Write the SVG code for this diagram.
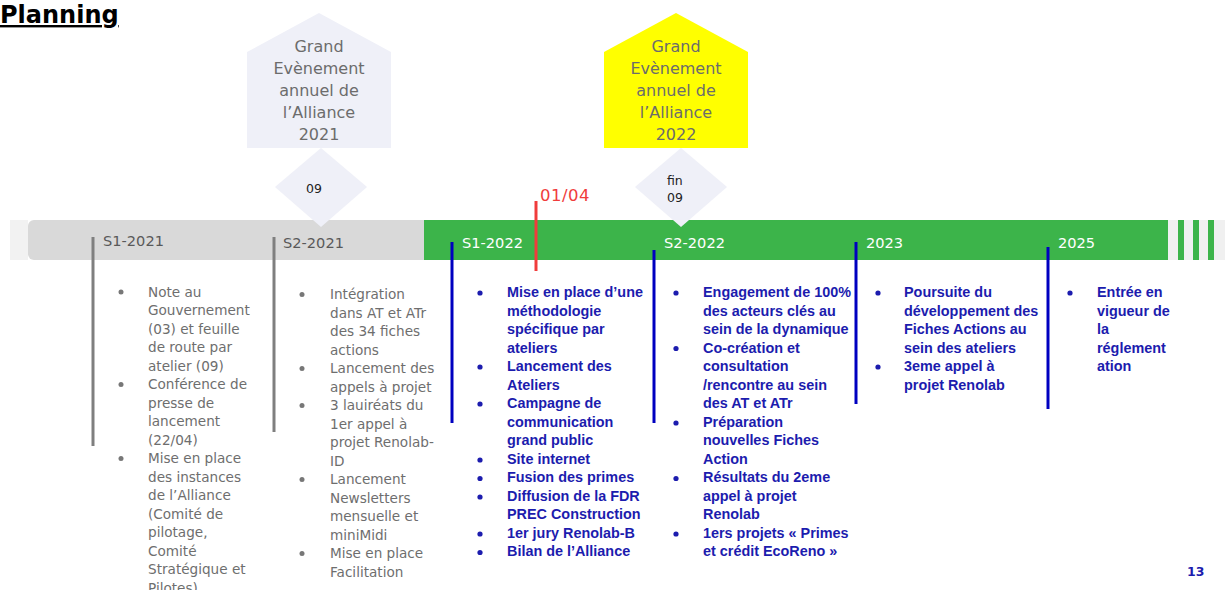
<svg xmlns="http://www.w3.org/2000/svg" width="1225" height="590" viewBox="0 0 1225 590">
<style>
.g{font-family:"DejaVu Sans",Verdana,sans-serif;font-size:13.6px;fill:#6e6e6e}
.b{font-family:"Liberation Sans",Arial,sans-serif;font-size:14.4px;font-weight:bold;fill:#1c1cae}
.pent{font-family:"DejaVu Sans",Verdana,sans-serif;font-size:16px;fill:#6c6c6c;text-anchor:middle}
.dia{font-family:"DejaVu Sans",Verdana,sans-serif;font-size:12.5px;fill:#222}
.lbl{font-family:"DejaVu Sans",Verdana,sans-serif;font-size:14.6px}
.gd{fill:#777}
.bd{fill:#1c1cae}
.gt{stroke:#7f7f7f;stroke-width:3}
.bt{stroke:#0000c0;stroke-width:3}
</style>
<rect width="1225" height="590" fill="#fff"/>
<g id="title">
<text x="0" y="23" font-family="DejaVu Sans,Verdana,sans-serif" font-size="24" font-weight="bold" text-decoration="underline" fill="#000">Planning</text>
</g>
<g id="bar">
<rect x="10" y="220" width="18" height="40" fill="#f2f2f2"/>
<rect x="28" y="220" width="410" height="40" rx="6" fill="#d9d9d9"/>
<rect x="424" y="220" width="744" height="40" fill="#3cb44a"/>
<rect x="1168" y="220" width="57" height="40" fill="#f0f0f0"/>
<rect x="1178" y="220" width="6" height="40" fill="#3cb44a"/>
<rect x="1193" y="220" width="6" height="40" fill="#3cb44a"/>
<rect x="1208" y="220" width="6" height="40" fill="#3cb44a"/>
<text class="lbl" x="103" y="246" fill="#595959">S1-2021</text>
<text class="lbl" x="283" y="248" fill="#595959">S2-2021</text>
<text class="lbl" x="462" y="248" fill="#fff">S1-2022</text>
<text class="lbl" x="664" y="248" fill="#fff">S2-2022</text>
<text class="lbl" x="866" y="248" fill="#fff">2023</text>
<text class="lbl" x="1058" y="248" fill="#fff">2025</text>
</g>
<g id="event2021">
<polygon points="247,52 319,13 391,52 391,148 247,148" fill="#eff0f8"/>
<text class="pent" x="319" y="52">Grand</text>
<text class="pent" x="319" y="74">Evènement</text>
<text class="pent" x="319" y="96">annuel de</text>
<text class="pent" x="319" y="118">l’Alliance</text>
<text class="pent" x="319" y="140">2021</text>
</g>
<g id="event2022">
<polygon points="604,52 676,13 748,52 748,148 604,148" fill="#ffff00"/>
<text class="pent" x="676" y="52">Grand</text>
<text class="pent" x="676" y="74">Evènement</text>
<text class="pent" x="676" y="96">annuel de</text>
<text class="pent" x="676" y="118">l’Alliance</text>
<text class="pent" x="676" y="140">2022</text>
</g>
<g id="date09">
<polygon points="321,148 367,187 321,227 275,187" fill="#eff0f8"/>
<text class="dia" x="306" y="193">09</text>
</g>
<g id="datefin09">
<polygon points="681,148 727,187 681,227 635,187" fill="#eff0f8"/>
<text class="dia" x="667" y="185">fin</text>
<text class="dia" x="667" y="202">09</text>
</g>
<g id="connectors">
<line class="gt" x1="93" y1="237" x2="93" y2="446"/>
<line class="gt" x1="274" y1="237" x2="274" y2="432"/>
<line class="bt" x1="452" y1="242" x2="452" y2="423"/>
<line class="bt" x1="654" y1="250" x2="654" y2="423"/>
<line class="bt" x1="856" y1="242" x2="856" y2="404"/>
<line class="bt" x1="1048" y1="247" x2="1048" y2="409"/>
<line x1="536" y1="201" x2="536" y2="271" stroke="#f03c3c" stroke-width="3"/>
<text x="540" y="201" font-family="DejaVu Sans,Verdana,sans-serif" font-size="16.5" fill="#f03c3c" letter-spacing="0.5">01/04</text>
</g>
<g id="col-s1-2021">
<circle class="gd" cx="121" cy="292" r="2.5"/>
<circle class="gd" cx="121" cy="384.5" r="2.5"/>
<circle class="gd" cx="121" cy="458.5" r="2.5"/>
<text class="g" x="148" y="296.5">Note au</text>
<text class="g" x="148" y="315">Gouvernement</text>
<text class="g" x="148" y="333.5">(03) et feuille</text>
<text class="g" x="148" y="352">de route par</text>
<text class="g" x="148" y="370.5">atelier (09)</text>
<text class="g" x="148" y="389">Conférence de</text>
<text class="g" x="148" y="407.5">presse de</text>
<text class="g" x="148" y="426">lancement</text>
<text class="g" x="148" y="444.5">(22/04)</text>
<text class="g" x="148" y="463">Mise en place</text>
<text class="g" x="148" y="481.5">des instances</text>
<text class="g" x="148" y="500">de l’Alliance</text>
<text class="g" x="148" y="518.5">(Comité de</text>
<text class="g" x="148" y="537">pilotage,</text>
<text class="g" x="148" y="555.5">Comité</text>
<text class="g" x="148" y="574">Stratégique et</text>
<text class="g" x="148" y="592.5">Pilotes)</text>
</g>
<g id="col-s2-2021">
<circle class="gd" cx="302" cy="294.5" r="2.5"/>
<circle class="gd" cx="302" cy="368.5" r="2.5"/>
<circle class="gd" cx="302" cy="405.5" r="2.5"/>
<circle class="gd" cx="302" cy="479.5" r="2.5"/>
<circle class="gd" cx="302" cy="553.5" r="2.5"/>
<text class="g" x="330" y="299">Intégration</text>
<text class="g" x="330" y="317.5">dans AT et ATr</text>
<text class="g" x="330" y="336">des 34 fiches</text>
<text class="g" x="330" y="354.5">actions</text>
<text class="g" x="330" y="373">Lancement des</text>
<text class="g" x="330" y="391.5">appels à projet</text>
<text class="g" x="330" y="410">3 lauiréats du</text>
<text class="g" x="330" y="428.5">1er appel à</text>
<text class="g" x="330" y="447">projet Renolab-</text>
<text class="g" x="330" y="465.5">ID</text>
<text class="g" x="330" y="484">Lancement</text>
<text class="g" x="330" y="502.5">Newsletters</text>
<text class="g" x="330" y="521">mensuelle et</text>
<text class="g" x="330" y="539.5">miniMidi</text>
<text class="g" x="330" y="558">Mise en place</text>
<text class="g" x="330" y="576.5">Facilitation</text>
</g>
<g id="col-s1-2022">
<circle class="bd" cx="480" cy="293" r="2.6"/>
<circle class="bd" cx="480" cy="367" r="2.6"/>
<circle class="bd" cx="480" cy="404" r="2.6"/>
<circle class="bd" cx="480" cy="460" r="2.6"/>
<circle class="bd" cx="480" cy="478.5" r="2.6"/>
<circle class="bd" cx="480" cy="497" r="2.6"/>
<circle class="bd" cx="480" cy="534" r="2.6"/>
<circle class="bd" cx="480" cy="552.5" r="2.6"/>
<text class="b" x="507" y="297">Mise en place d’une</text>
<text class="b" x="507" y="315.5">méthodologie</text>
<text class="b" x="507" y="334">spécifique par</text>
<text class="b" x="507" y="352.5">ateliers</text>
<text class="b" x="507" y="371">Lancement des</text>
<text class="b" x="507" y="389.5">Ateliers</text>
<text class="b" x="507" y="408">Campagne de</text>
<text class="b" x="507" y="426.5">communication</text>
<text class="b" x="507" y="445">grand public</text>
<text class="b" x="507" y="463.5">Site internet</text>
<text class="b" x="507" y="482">Fusion des primes</text>
<text class="b" x="507" y="500.5">Diffusion de la FDR</text>
<text class="b" x="507" y="519">PREC Construction</text>
<text class="b" x="507" y="537.5">1er jury Renolab-B</text>
<text class="b" x="507" y="556">Bilan de l’Alliance</text>
</g>
<g id="col-s2-2022">
<circle class="bd" cx="676" cy="293" r="2.6"/>
<circle class="bd" cx="676" cy="348.5" r="2.6"/>
<circle class="bd" cx="676" cy="423" r="2.6"/>
<circle class="bd" cx="676" cy="478.5" r="2.6"/>
<circle class="bd" cx="676" cy="534" r="2.6"/>
<text class="b" x="703" y="297">Engagement de 100%</text>
<text class="b" x="703" y="315.5">des acteurs clés au</text>
<text class="b" x="703" y="334">sein de la dynamique</text>
<text class="b" x="703" y="352.5">Co-création et</text>
<text class="b" x="703" y="371">consultation</text>
<text class="b" x="703" y="389.5">/rencontre au sein</text>
<text class="b" x="703" y="408">des AT et ATr</text>
<text class="b" x="703" y="426.5">Préparation</text>
<text class="b" x="703" y="445">nouvelles Fiches</text>
<text class="b" x="703" y="463.5">Action</text>
<text class="b" x="703" y="482">Résultats du 2eme</text>
<text class="b" x="703" y="500.5">appel à projet</text>
<text class="b" x="703" y="519">Renolab</text>
<text class="b" x="703" y="537.5">1ers projets « Primes</text>
<text class="b" x="703" y="556">et crédit EcoReno »</text>
</g>
<g id="col-2023">
<circle class="bd" cx="878" cy="293" r="2.6"/>
<circle class="bd" cx="878" cy="367" r="2.6"/>
<text class="b" x="904" y="297">Poursuite du</text>
<text class="b" x="904" y="315.5">développement des</text>
<text class="b" x="904" y="334">Fiches Actions au</text>
<text class="b" x="904" y="352.5">sein des ateliers</text>
<text class="b" x="904" y="371">3eme appel à</text>
<text class="b" x="904" y="389.5">projet Renolab</text>
</g>
<g id="col-2025">
<circle class="bd" cx="1070" cy="293" r="2.6"/>
<text class="b" x="1097" y="297">Entrée en</text>
<text class="b" x="1097" y="315.5">vigueur de</text>
<text class="b" x="1097" y="334">la</text>
<text class="b" x="1097" y="352.5">réglement</text>
<text class="b" x="1097" y="371">ation</text>
</g>
<g id="page">
<text x="1187" y="576" font-family="DejaVu Sans,Verdana,sans-serif" font-size="12.5" font-weight="bold" fill="#1c1cae">13</text>
</g>
</svg>
